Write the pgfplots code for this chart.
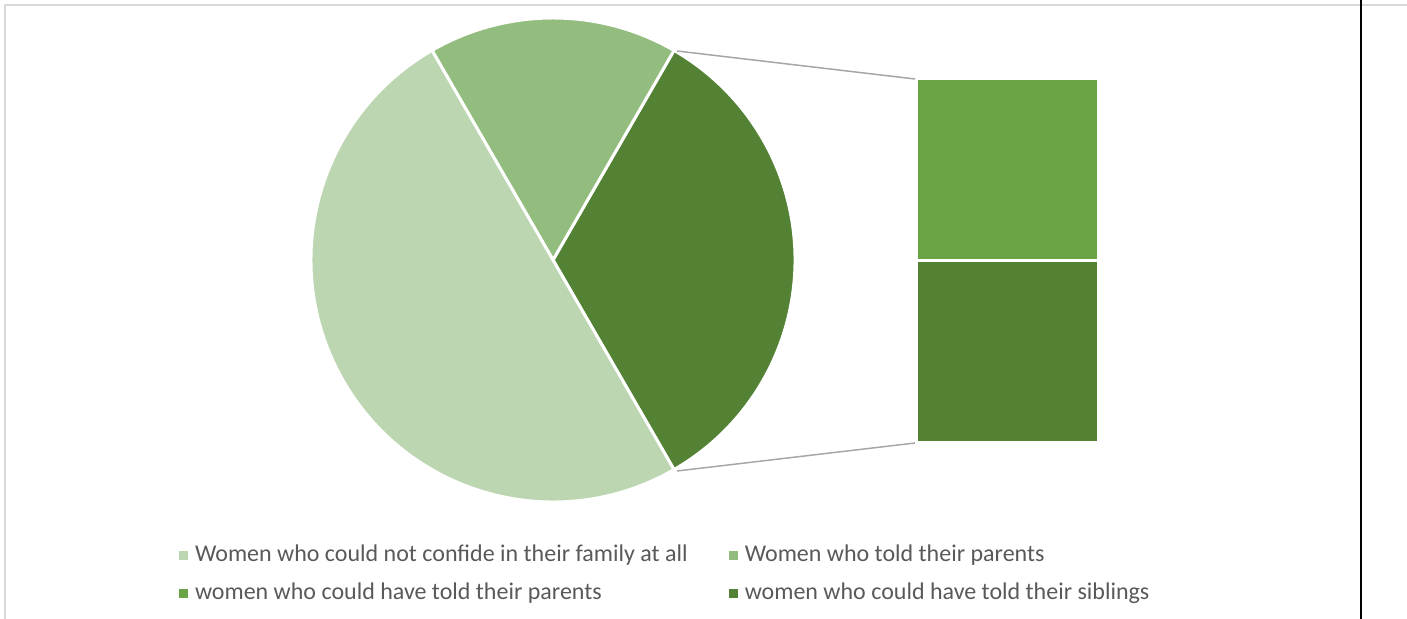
\documentclass[border=0pt]{standalone}
\usepackage{pgfplots}
\usepackage{pgfplotstable}
\pgfplotsset{compat=1.18}
\usepackage{fontspec}
\setmainfont{Carlito}
\definecolor{cA}{HTML}{BDD6B2}
\definecolor{cB}{HTML}{93BD7E}
\definecolor{cC}{HTML}{6AA444}
\definecolor{cD}{HTML}{548235}
\definecolor{txt}{HTML}{595959}
\definecolor{conn}{HTML}{A6A6A6}
\definecolor{frame}{HTML}{D9D9D9}
\pgfplotstableread[col sep=comma]{
idx,value
0,3
1,1
2,1
3,1
}\piedata
\pgfplotsset{legsq/.style={legend image code/.code={\fill[##1, draw=none] (0pt,-2.25pt) rectangle (4.5pt,2.25pt);}}}
\begin{document}
\begin{tikzpicture}
\pgfplotstablegetelem{0}{value}\of\piedata \let\va\pgfplotsretval
\pgfplotstablegetelem{1}{value}\of\piedata \let\vb\pgfplotsretval
\pgfplotstablegetelem{2}{value}\of\piedata \let\vc\pgfplotsretval
\pgfplotstablegetelem{3}{value}\of\piedata \let\vd\pgfplotsretval
\pgfmathsetmacro\T{\va+\vb+\vc+\vd}
\pgfmathsetmacro\Aother{360*(\vc+\vd)/\T}
\pgfmathsetmacro\aS{-\Aother/2}
\pgfmathsetmacro\aE{\Aother/2}
\pgfmathsetmacro\bE{\aE+360*\vb/\T}
\pgfmathsetmacro\cE{\bE+360*\va/\T}
\pgfmathsetmacro\ymid{178+361*\vd/(\vc+\vd)}
\pgfmathsetmacro\ymidT{\ymid+1.5}
\pgfmathsetmacro\ymidB{\ymid-1.5}
\begin{axis}[
  x=0.5pt, y=0.5pt,
  xmin=0, xmax=1407, ymin=0, ymax=619,
  hide axis, clip=false,
  legend columns=2,
  legend cell align=left,
  legend style={at={(axis cs:179,44)}, anchor=west, draw=none, fill=none,
    inner sep=0pt, outer sep=0pt,
    font=\fontsize{12}{14}\selectfont, text=txt,
    nodes={inner sep=0pt, text height=8.5pt, text depth=2.5pt},
    column sep=3.5pt, row sep=8pt,
    /tikz/every even column/.append style={column sep=20.5pt}},
]
% frame
\addplot[forget plot, draw=frame, line width=1pt] coordinates {(5,0) (5,614) (1407,614)};
\addplot[forget plot, draw=black, line width=1.1pt] coordinates {(1361,0) (1361,619)};
% pie slices
\fill[cD, draw=white, line width=1.5pt, line join=round] (axis cs:553,359) -- ++(\aS:121pt) arc[start angle=\aS, end angle=\aE, radius=121pt] -- cycle;
\fill[cB, draw=white, line width=1.5pt, line join=round] (axis cs:553,359) -- ++(\aE:121pt) arc[start angle=\aE, end angle=\bE, radius=121pt] -- cycle;
\fill[cA, draw=white, line width=1.5pt, line join=round] (axis cs:553,359) -- ++(\bE:121pt) arc[start angle=\bE, end angle=\cE, radius=121pt] -- cycle;
% bar of pie
\fill[cC] (axis cs:918,\ymidT) rectangle (axis cs:1097,539);
\fill[cD] (axis cs:918,178) rectangle (axis cs:1097,\ymidB);
% connectors
\addplot[forget plot, draw=conn, line width=0.75pt] coordinates {(677,568) (915,540)};
\addplot[forget plot, draw=conn, line width=0.75pt] coordinates {(677,148) (915,176)};
% legend
\addlegendimage{legsq, fill=cA}
\addlegendentry{Women who could not confide in their family at all}
\addlegendimage{legsq, fill=cB}
\addlegendentry{Women who told their parents}
\addlegendimage{legsq, fill=cC}
\addlegendentry{women who could have told their parents}
\addlegendimage{legsq, fill=cD}
\addlegendentry{women who could have told their siblings}
\end{axis}
\pgfresetboundingbox
\path (current axis.south west) rectangle (current axis.north east);
\end{tikzpicture}
\end{document}
